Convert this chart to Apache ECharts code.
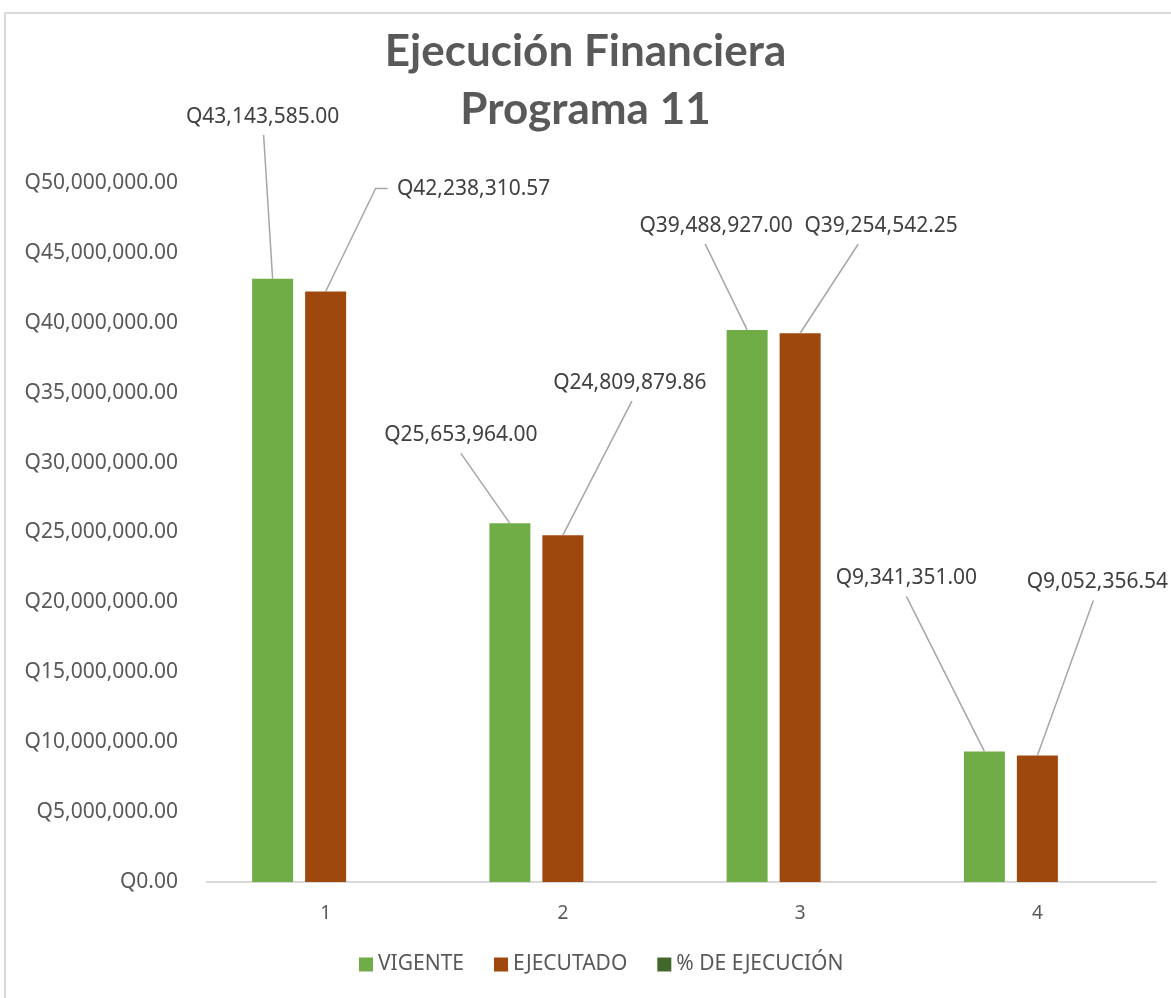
<!DOCTYPE html>
<html>
<head>
<meta charset="utf-8">
<script src="https://cdn.jsdelivr.net/npm/echarts@6/dist/echarts.min.js"></script>
<style>
    html, body { margin: 0; padding: 0; background: #fff; }
    #chart { width: 1171px; height: 998px; }
</style>
</head>
<body>
<div id="chart"></div>
<script>
// chart data
const categories = ['1', '2', '3', '4'];
const vigente = [43143585.00, 25653964.00, 39488927.00, 9341351.00];
const ejecutado = [42238310.57, 24809879.86, 39254542.25, 9052356.54];
const porcentaje = [0.979, 0.967, 0.994, 0.969];
const yTicks = { min: 0, max: 50000000, interval: 5000000 };

// where each label's centre sits, relative to the top centre of its bar (px)
const vigenteOffsets = [[-10, -162], [-49, -88], [-31, -104], [-78, -173]];
const ejecutadoOffsets = [[148, -102], [67, -152], [81, -107], [60, -173]];
// x shift of the leader line end under the label
const vigenteLineEnd = [1, 0, -11, 0];
const ejecutadoLineEnd = [null, 2, -23, -4];

const BAR_W = 41;
const BAR_GAP = 12;

const money = v => 'Q' + Number(v).toLocaleString('en-US', { minimumFractionDigits: 2, maximumFractionDigits: 2 });

const font = '"Noto Sans", "Open Sans", sans-serif';

const labelStyle = {
    show: true,
    position: 'top',
    fontFamily: font,
    fontSize: 21,
    color: '#404040',
    formatter: p => money(p.value)
};

function makeLayout(offsets) {
    return function (p) {
        const r = p.rect;
        const l = p.labelRect;
        const barX = r.x + r.width / 2;
        const barTop = Math.min(r.y, r.y + r.height);
        const cx = barX + offsets[p.dataIndex][0];
        const cy = barTop + offsets[p.dataIndex][1];
        return {
            dx: cx - (l.x + l.width / 2),
            dy: cy - (l.y + l.height / 2)
        };
    };
}

// leader lines drawn from the bar top to its label
function leaderSeries(name, values, offsets, lineEnd, shift) {
    return {
        name: name,
        type: 'custom',
        silent: true,
        z: 5,
        data: values.map((v, i) => [i, v]),
        encode: { x: 0, y: 1 },
        renderItem(params, api) {
            const i = params.dataIndex;
            const top = api.coord([api.value(0), api.value(1)]);
            const bx = top[0] + shift;
            const by = top[1];
            const o = offsets[i];
            const ex = lineEnd[i];
            let pts;
            if (ex === null) {
                pts = [[bx, by], [bx + o[0] - 98, by + o[1] - 1], [bx + o[0] - 86, by + o[1] - 1]];
            } else {
                pts = [[bx, by], [bx + o[0] + ex, by + o[1] + 18]];
            }
            return {
                type: 'polyline',
                shape: { points: pts },
                style: { stroke: '#A6A6A6', lineWidth: 1.5, fill: 'none' }
            };
        }
    };
}

const chart = echarts.init(document.getElementById('chart'));
chart.setOption({
    backgroundColor: '#fff',
    animation: false,
    title: {
        text: 'Ejecución Financiera\nPrograma 11',
        left: 'center',
        top: 18,
        textStyle: {
            fontFamily: 'Lato, "Open Sans", sans-serif',
            fontWeight: 'bold',
            fontSize: 44,
            lineHeight: 58,
            color: '#595959'
        }
    },
    graphic: [{
        type: 'rect',
        shape: { x: 5, y: 13, width: 1300, height: 1100 },
        style: { fill: 'none', stroke: '#D9D9D9', lineWidth: 2 },
        silent: true
    }],
    legend: {
        bottom: 18,
        left: 354,
        itemWidth: 14,
        itemHeight: 14,
        itemGap: 30,
        icon: 'rect',
        textStyle: { fontFamily: font, fontSize: 21, color: '#595959' },
        data: ['VIGENTE', 'EJECUTADO', '% DE EJECUCIÓN']
    },
    grid: {
        left: 207,
        right: 15,
        top: 183,
        bottom: 116
    },
    xAxis: {
        type: 'category',
        data: categories,
        axisLine: { lineStyle: { color: '#D9D9D9', width: 2 } },
        axisTick: { show: false },
        axisLabel: {
            margin: 22,
            fontFamily: font,
            fontSize: 19,
            color: '#595959'
        }
    },
    yAxis: {
        type: 'value',
        min: yTicks.min,
        max: yTicks.max,
        interval: yTicks.interval,
        axisLine: { show: false },
        axisTick: { show: false },
        splitLine: { show: false },
        axisLabel: {
            margin: 29,
            fontFamily: font,
            fontSize: 21,
            color: '#595959',
            formatter: v => money(v)
        }
    },
    series: [
        {
            name: 'VIGENTE',
            type: 'bar',
            data: vigente,
            barWidth: BAR_W,
            barGap: (BAR_GAP / BAR_W * 100) + '%',
            itemStyle: { color: '#70AD47' },
            label: labelStyle,
            labelLayout: makeLayout(vigenteOffsets)
        },
        {
            name: 'EJECUTADO',
            type: 'bar',
            data: ejecutado,
            barWidth: BAR_W,
            barGap: (BAR_GAP / BAR_W * 100) + '%',
            itemStyle: { color: '#9E480E' },
            label: labelStyle,
            labelLayout: makeLayout(ejecutadoOffsets)
        },
        {
            name: '% DE EJECUCIÓN',
            type: 'bar',
            data: porcentaje,
            barWidth: BAR_W,
            barGap: (BAR_GAP / BAR_W * 100) + '%',
            itemStyle: { color: '#43682B' }
        },
        leaderSeries('lineas-vigente', vigente, vigenteOffsets, vigenteLineEnd, -(BAR_W + BAR_GAP)),
        leaderSeries('lineas-ejecutado', ejecutado, ejecutadoOffsets, ejecutadoLineEnd, 0)
    ]
});
</script>
</body>
</html>
